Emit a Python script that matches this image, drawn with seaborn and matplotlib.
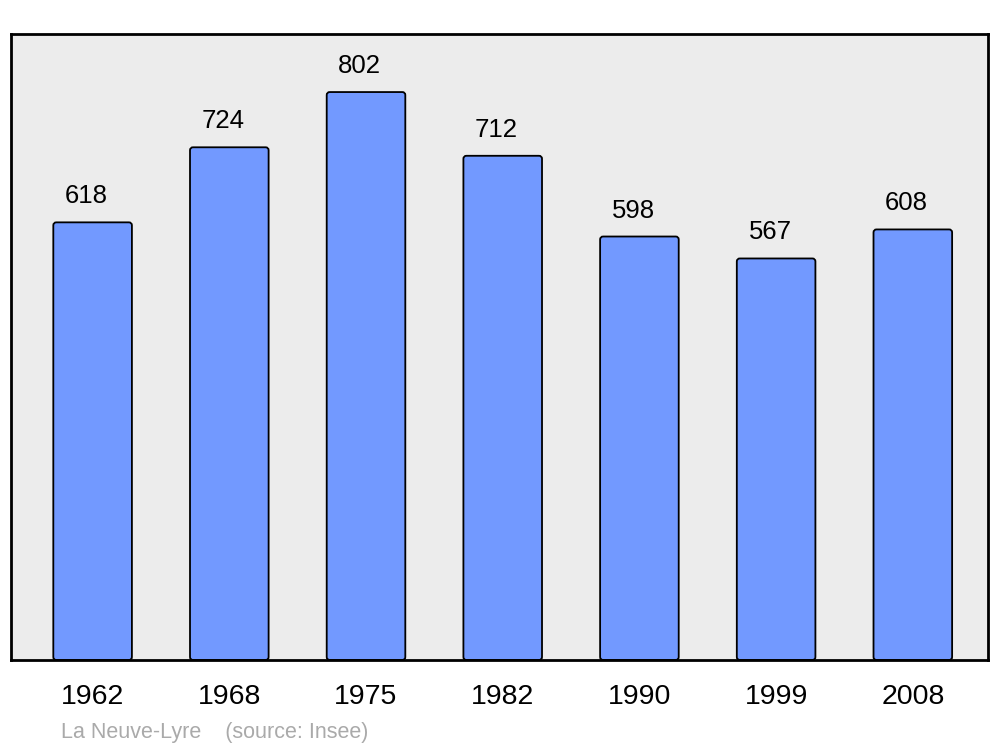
import matplotlib
matplotlib.use("Agg")
import matplotlib.pyplot as plt
from matplotlib.patches import FancyBboxPatch
import seaborn as sns
import pandas as pd

years = ["1962", "1968", "1975", "1982", "1990", "1999", "2008"]
population = [618, 724, 802, 712, 598, 567, 608]

sns.set_theme(style="white")
plt.rcParams["font.family"] = ["Liberation Sans", "DejaVu Sans"]

df = pd.DataFrame({"year": years, "pop": population})

fig = plt.figure(figsize=(10, 7.47), dpi=100)
ax = fig.add_axes([0.011, 0.1165, 0.977, 0.838])
ax.set_facecolor("#ECECEC")

sns.barplot(data=df, x="year", y="pop", color="#7299FF", saturation=1,
            width=0.575, edgecolor="black", linewidth=1.3, ax=ax)

ax.set_xlim(-0.597, 6.55)
ax.set_ylim(0, 884)

# replace rectangles with slightly rounded boxes
px_x = 977 / (6.55 + 0.597)
px_y = 626 / 884
r = 3.0 / px_x
aspect = (3.0 / px_y) / r
for p in list(ax.patches):
    x, y, w, h = p.get_x(), p.get_y(), p.get_width(), p.get_height()
    fb = FancyBboxPatch((x, y), w, h,
                        boxstyle=f"round,pad=0,rounding_size={r}",
                        mutation_aspect=aspect,
                        facecolor=p.get_facecolor(), edgecolor="black",
                        linewidth=1.3, zorder=p.get_zorder())
    p.set_visible(False)
    ax.add_patch(fb)

for i, v in enumerate(population):
    ax.text(i - 0.045, v + 26 / 0.708, str(v), ha="center", va="center",
            fontsize=18.5, color="black")

ax.set_yticks([])
ax.set_xlabel("")
ax.set_ylabel("")
ax.tick_params(axis="x", length=0, labelsize=20.5, pad=17, colors="black")
for s in ax.spines.values():
    s.set_visible(True)
    s.set_color("black")
    s.set_linewidth(2)
    s.set_zorder(5)

fig.text(0.061, 0.020, "La Neuve-Lyre    (source: Insee)", fontsize=15.5,
         color="#AAAAAA", ha="left", va="center")

fig.savefig("out.png", dpi=100, facecolor="white")
